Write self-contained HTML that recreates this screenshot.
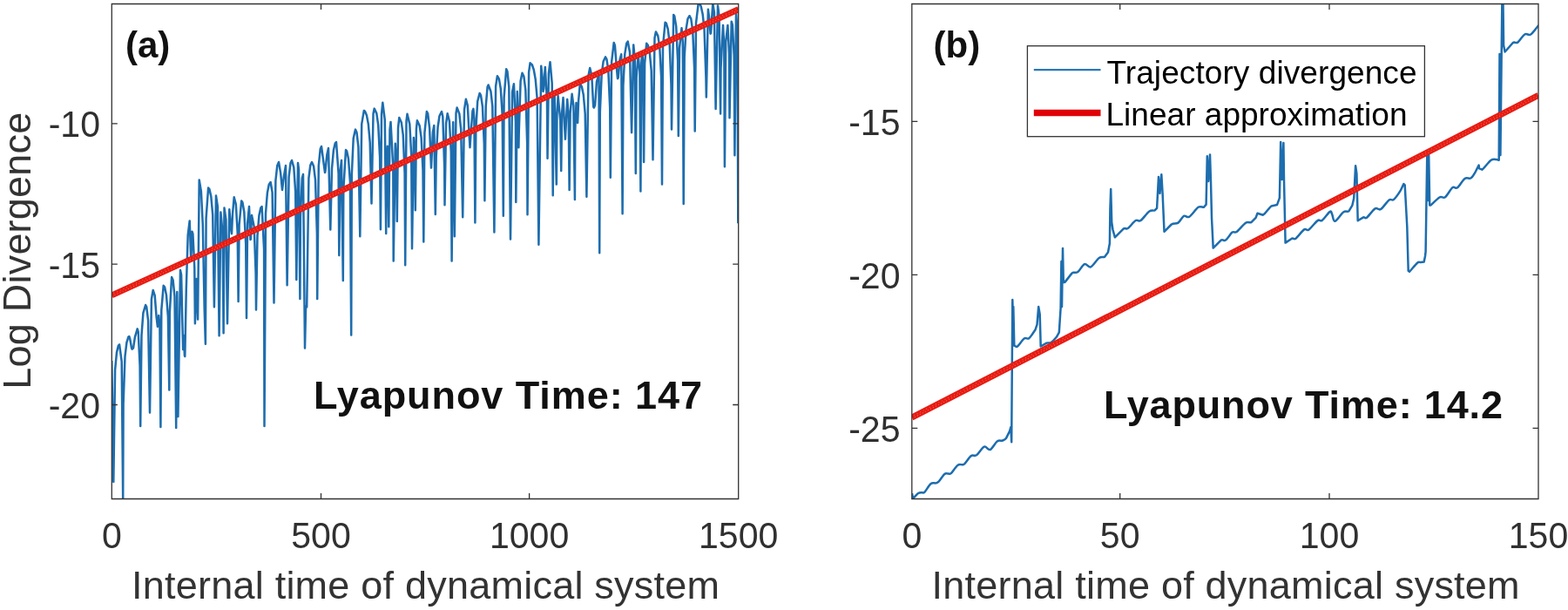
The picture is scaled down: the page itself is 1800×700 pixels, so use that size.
<!DOCTYPE html>
<html><head><meta charset="utf-8"><title>Lyapunov</title>
<style>
html,body{margin:0;padding:0;background:#fff;width:1800px;height:700px;overflow:hidden}
svg{display:block;filter:blur(0.35px)}
text{font-family:'Liberation Sans', sans-serif}
.tk{font-size:43px;fill:#303030}
.lb{font-size:45px;fill:#333}
.an{font-size:45px;font-weight:bold;fill:#111}
.lg{font-size:37px;fill:#000}
</style></head><body>
<svg width="1800" height="700" viewBox="0 0 1800 700">
<defs>
<clipPath id="ca"><rect x="128.3" y="4.5" width="719.4000000000001" height="568.0"/></clipPath>
<clipPath id="cb"><rect x="1046.8" y="4.5" width="719.2" height="568.0"/></clipPath>
</defs>
<rect width="1800" height="700" fill="#fff"/>
<path class="tr" d="M128.3,414.0 130.3,553.0 132.1,424.4 134.0,404.4 135.9,396.6 137.1,395.4 139.7,414.9 141.2,575.0 141.6,463.6 143.5,409.0 145.4,393.1 147.3,386.8 148.3,386.0 149.2,388.8 151.1,399.6 151.7,400.6 153.0,399.6 154.9,386.9 157.7,377.4 158.7,380.7 160.6,419.8 161.2,489.0 162.5,384.6 164.4,359.1 167.1,350.0 168.2,352.0 170.1,367.9 172.0,473.5 173.9,343.3 175.7,332.9 177.7,339.1 179.6,363.6 180.9,374.9 182.3,362.0 183.4,374.3 184.4,490.0 185.3,355.8 187.7,327.7 189.1,329.5 191.0,338.8 192.9,363.5 194.3,447.6 194.8,359.1 197.1,318.0 198.6,321.5 200.5,340.2 202.2,491.0 203.3,335.0 204.4,478.0 207.0,310.0 208.1,315.3 210.1,401.0 211.0,385.0 211.9,408.0 212.3,409.0 213.8,330.9 215.7,269.6 217.7,253.4 219.1,293.7 219.5,292.4 220.5,265.7 221.4,268.5 223.3,307.2 223.9,371.2 225.5,320.0 227.1,366.5 228.7,206.5 230.9,219.7 232.8,258.0 234.7,355.2 235.9,394.8 236.6,250.4 239.1,215.6 240.4,217.1 242.3,225.3 244.2,246.3 245.9,352.3 248.0,224.6 249.9,237.1 251.6,385.3 253.4,243.5 255.6,267.6 256.6,382.2 257.5,238.6 259.4,252.0 261.0,371.2 263.3,240.2 265.1,262.4 266.0,268.2 267.0,245.5 268.7,226.3 270.8,234.2 272.7,266.5 273.6,346.0 274.6,258.0 277.2,230.4 278.4,232.1 280.3,243.3 282.2,279.6 283.0,364.9 284.1,256.4 286.0,237.0 287.5,275.0 287.9,274.0 289.0,247.0 291.7,260.2 293.6,313.5 294.0,355.5 295.5,270.6 297.4,247.3 299.3,238.6 300.6,237.0 303.1,286.2 303.5,489.1 305.0,244.9 306.9,221.2 308.8,211.6 310.6,209.0 312.6,220.7 314.5,347.6 316.4,207.1 318.3,189.9 320.0,186.0 322.1,198.4 324.0,218.0 325.9,202.4 328.0,190.0 329.6,327.2 331.6,203.2 333.5,187.1 335.0,184.0 337.3,192.1 339.2,220.4 340.3,320.9 342.0,187.0 343.0,194.4 344.4,342.9 344.9,249.0 346.8,204.6 348.0,200.0 350.0,399.5 351.1,351.3 352.2,352.3 354.4,204.5 356.3,189.5 358.0,186.0 360.1,190.8 362.0,206.4 363.9,268.5 364.2,342.9 365.8,190.2 367.7,171.0 369.0,168.0 371.5,186.8 373.0,198.0 373.4,197.0 375.3,177.7 377.0,170.0 379.3,263.5 381.0,193.3 382.9,172.3 384.8,164.3 386.0,163.0 388.6,198.8 389.3,293.0 390.5,198.1 392.0,184.0 393.8,322.0 394.3,217.3 397.0,172.0 398.1,173.3 400.0,182.3 401.9,208.1 403.2,384.4 403.8,200.9 405.7,158.7 408.0,148.6 409.5,151.9 411.4,168.7 413.3,271.2 415.2,142.4 417.8,126.9 419.0,127.7 420.9,132.2 422.8,142.2 424.7,163.4 426.5,233.5 428.5,130.5 429.7,124.6 432.3,130.1 434.2,143.4 436.1,180.6 436.9,263.3 438.0,131.0 439.3,117.7 441.8,137.7 443.2,268.0 443.7,190.8 444.8,167.7 446.3,260.2 447.5,148.9 448.5,139.9 451.3,192.2 451.7,299.5 453.8,164.8 455.1,186.3 455.8,253.9 457.0,147.0 458.3,134.9 460.8,140.4 462.7,154.7 464.6,198.7 465.2,304.2 466.5,138.9 467.5,130.8 470.3,142.4 472.2,178.3 473.0,285.3 474.9,158.0 476.0,173.6 476.8,241.3 477.9,148.2 478.9,138.3 481.7,144.3 483.6,157.9 485.5,195.2 486.3,277.5 487.4,152.7 489.9,128.0 491.2,130.6 493.1,147.0 495.0,192.6 496.9,151.7 498.3,144.0 499.8,246.0 500.7,180.3 502.6,145.8 504.5,133.0 507.0,128.0 508.3,133.8 510.2,192.3 510.5,235.2 512.1,141.4 513.7,130.3 515.9,139.0 517.8,174.2 518.6,299.5 520.2,140.3 521.8,271.2 523.5,129.9 524.6,123.4 527.3,130.5 529.2,148.4 531.2,249.2 533.0,125.6 534.9,113.8 536.8,121.1 538.7,155.7 539.5,169.2 540.6,152.0 542.5,127.1 543.4,124.9 544.4,136.0 545.4,255.5 546.3,149.1 548.2,116.3 550.6,107.0 552.0,109.4 553.9,122.0 555.8,165.3 556.4,230.3 557.7,121.8 559.6,99.8 560.6,97.5 563.4,104.7 565.3,121.9 567.4,266.5 569.1,99.0 570.9,87.2 572.9,90.6 574.8,101.9 576.7,131.8 577.8,247.7 578.6,111.8 581.2,79.2 582.4,81.7 584.3,99.6 586.0,274.5 588.1,105.6 589.9,96.3 591.9,139.6 592.3,232.1 593.8,105.0 595.4,169.2 595.7,153.0 597.6,93.1 599.5,83.7 601.4,87.8 603.3,103.1 605.2,165.1 605.5,246.2 607.1,82.6 608.6,72.3 610.9,74.5 612.8,80.2 614.7,90.9 616.6,112.5 618.4,280.8 621.2,75.7 622.3,85.7 623.5,104.9 624.2,101.7 625.8,76.9 628.0,116.9 628.5,181.8 629.9,84.1 631.5,71.2 633.7,95.3 634.7,224.2 635.6,120.5 636.6,108.0 638.8,211.6 639.4,132.2 640.6,110.0 643.2,137.6 644.2,195.9 645.1,129.6 646.5,112.0 648.9,159.7 651.2,114.0 652.7,132.8 653.6,217.9 654.6,130.0 656.6,107.8 658.4,121.3 659.9,228.9 660.3,148.7 661.5,118.0 663.1,140.9 664.1,115.5 665.8,96.3 667.9,99.4 669.8,108.8 671.7,130.4 673.4,225.8 675.5,86.7 677.2,78.0 679.3,86.6 681.2,122.6 681.9,123.6 683.1,120.5 685.0,93.6 687.5,85.0 688.2,290.3 688.8,128.7 690.7,84.8 692.6,70.6 695.0,65.4 696.4,67.8 698.3,80.4 700.2,123.7 700.8,203.8 702.1,71.1 704.7,48.9 705.9,52.2 707.8,77.2 709.0,90.2 709.7,89.2 711.6,68.2 713.2,62.2 714.6,245.3 715.4,98.4 717.3,61.9 719.2,50.0 720.7,47.6 723.0,59.9 725.1,152.1 727.2,51.4 728.7,66.9 729.8,198.9 730.6,89.0 732.6,62.3 734.4,82.5 735.4,219.4 736.3,72.0 737.2,60.2 738.2,72.0 739.1,186.1 740.1,72.8 742.2,49.7 743.9,51.9 745.8,60.4 747.7,80.9 749.5,183.3 751.5,43.6 752.9,36.4 755.3,41.1 757.2,53.8 759.1,88.3 760.0,211.6 761.0,53.3 763.6,25.7 764.8,26.7 766.7,33.2 768.6,48.7 770.5,97.5 771.0,148.4 773.2,17.1 774.3,18.6 776.2,30.1 778.1,69.4 778.8,156.0 780.0,55.2 782.5,32.2 783.8,48.6 784.7,234.0 785.7,65.4 787.6,33.5 789.5,21.7 791.5,18.2 793.3,21.6 795.2,35.0 797.1,78.6 797.7,150.4 799.0,26.6 801.8,3.0 802.8,3.5 804.7,7.3 806.6,15.9 808.5,33.1 810.4,88.2 810.8,111.5 812.9,10.7 814.2,20.9 815.6,38.7 816.1,37.7 818.3,4.0 819.9,14.3 821.6,125.0 824.0,6.4 825.6,18.3 827.1,130.5 827.5,78.1 830.0,28.9 831.3,52.7 831.9,191.3 833.2,48.0 835.4,28.9 837.0,61.1 837.5,135.3 839.7,24.7 840.8,28.3 842.7,64.0 843.4,178.3 845.0,13.9 846.5,34.9 847.3,256.3" fill="none" stroke="#1d6dae" stroke-width="2.5" stroke-linejoin="round" clip-path="url(#ca)"/>
<path class="tr" d="M1047.0,566.1L1048.0,572.1L1053.8,566.2C1055.6,565.1 1057.3,565.4 1058.6,565.2C1059.8,565.0 1059.6,566.5 1061.3,564.8C1063.0,563.1 1066.5,556.7 1068.7,555.0C1070.9,553.3 1072.7,554.8 1074.2,554.4C1075.7,554.0 1075.9,554.3 1077.6,552.6C1079.3,550.9 1082.5,545.5 1084.3,544.0C1086.1,542.5 1087.2,543.6 1088.4,543.5C1089.7,543.4 1090.0,544.7 1091.8,543.1C1093.6,541.5 1097.1,535.5 1099.3,533.9C1101.5,532.2 1103.3,533.5 1104.7,533.2C1106.1,532.9 1105.7,533.9 1107.4,532.2C1109.1,530.5 1112.6,524.8 1114.9,523.1C1117.2,521.5 1118.5,524.0 1121.0,522.3C1123.5,520.5 1127.2,513.6 1129.8,512.6C1132.4,511.6 1134.1,517.0 1136.6,516.0C1139.1,515.0 1142.3,508.2 1144.7,506.5C1147.1,504.8 1149.1,506.1 1150.8,505.5C1152.5,504.9 1153.5,504.9 1154.9,503.1L1159.0,494.9L1160.4,490.0L1161.2,507.2L1162.3,344.0L1163.0,368.0L1163.3,352.0L1164.3,396.7L1164.8,396.8C1165.4,396.9 1166.2,398.9 1168.0,397.5C1169.8,396.1 1173.6,390.0 1175.7,388.5C1177.8,387.0 1179.3,389.2 1180.8,388.5C1182.3,387.8 1183.4,385.7 1184.7,384.0L1188.6,378.2L1190.5,372.4L1192.2,351.9L1193.7,360.8L1194.7,397.5L1201.4,393.6C1203.4,392.9 1204.7,394.2 1206.6,393.0C1208.5,391.8 1211.5,388.5 1213.0,386.6L1215.8,381.4L1217.6,353.6L1218.4,300.0L1219.0,352.0L1220.0,284.9L1220.8,323.9L1222.3,323.9C1223.8,322.3 1228.1,316.5 1229.7,314.6C1231.3,312.7 1230.8,313.1 1232.1,312.7C1233.4,312.3 1235.1,313.7 1237.3,312.1C1239.5,310.5 1242.5,304.1 1245.0,303.1C1247.5,302.1 1249.3,307.5 1252.1,306.3C1254.9,305.1 1259.0,297.9 1261.7,296.0C1264.4,294.1 1266.4,295.8 1268.1,294.7L1272.0,289.6L1273.9,279.3L1274.4,240.0L1275.2,217.0L1276.2,255.0L1277.4,263.3L1279.9,272.3L1289.6,262.6C1292.1,260.9 1292.3,263.6 1294.7,262.0C1297.1,260.4 1301.2,254.5 1303.7,253.0C1306.2,251.5 1306.9,254.7 1309.5,253.0C1312.1,251.3 1316.4,244.6 1319.1,242.7C1321.8,240.8 1324.1,242.1 1325.6,241.4L1328.1,238.8L1330.0,202.9L1331.5,222.0L1333.3,200.3L1334.6,222.0L1336.5,265.8L1344.8,257.5C1347.5,255.8 1350.1,257.2 1352.5,255.6C1354.9,254.0 1356.9,249.0 1359.0,247.8C1361.1,246.7 1362.5,250.4 1365.3,248.7C1368.1,247.0 1372.8,239.6 1375.6,237.8C1378.4,236.0 1380.5,238.3 1382.0,237.8L1384.6,234.6L1385.8,179.3L1387.2,208.0L1389.0,177.4L1390.0,208.8L1391.0,250.0L1392.7,284.6L1401.7,275.6C1404.1,274.1 1404.8,277.1 1406.9,275.6C1409.1,274.1 1412.5,268.2 1414.6,266.6C1416.7,265.0 1417.1,267.8 1419.7,266.0C1422.3,264.2 1427.2,257.5 1430.0,255.7C1432.8,253.9 1434.5,256.1 1436.4,255.1L1441.6,249.9L1443.5,244.8L1449.9,246.7C1452.6,245.3 1456.8,238.3 1459.5,236.4L1466.0,235.1L1468.9,227.1L1470.2,162.9L1471.6,206.0L1473.4,164.1L1474.0,206.6L1475.6,278.6L1483.0,273.7C1485.0,272.9 1485.2,275.4 1487.5,273.7C1489.8,272.0 1494.6,265.1 1497.1,263.4C1499.6,261.7 1499.7,265.4 1502.3,263.7C1504.9,262.0 1510.0,254.9 1512.6,253.1C1515.2,251.3 1515.3,254.6 1517.7,252.9C1520.1,251.2 1524.8,244.1 1526.7,242.9C1528.6,241.7 1528.1,243.8 1529.1,245.6C1530.1,247.4 1530.3,254.2 1532.5,253.8C1534.7,253.5 1539.4,245.4 1542.1,243.5C1544.8,241.6 1546.8,243.5 1548.5,242.2L1552.4,235.6L1554.2,227.6L1556.1,190.3L1557.4,199.3L1558.7,253.3L1565.1,249.4C1566.8,248.8 1566.8,251.4 1569.0,249.7C1571.2,248.0 1575.9,241.0 1578.6,239.4C1581.3,237.8 1582.4,241.7 1585.1,240.0C1587.8,238.3 1592.2,231.2 1594.7,229.4C1597.2,227.6 1597.7,230.9 1599.8,229.1C1601.9,227.3 1605.7,221.8 1607.6,218.8C1609.5,215.8 1610.6,212.2 1611.4,211.1L1612.7,212.4L1615.3,260.0L1616.7,310.7L1618.0,311.7C1619.7,310.2 1624.9,303.5 1627.0,301.7C1629.1,299.9 1629.5,301.2 1630.8,301.0L1634.7,300.4L1636.0,294.0L1636.6,288.8L1638.3,177.1L1639.2,230.0L1640.2,178.0L1641.2,235.6L1642.3,235.6C1644.2,234.1 1649.7,228.1 1652.5,226.5C1655.3,224.9 1656.5,228.1 1659.0,226.2C1661.5,224.3 1665.1,217.1 1667.4,215.3C1669.8,213.5 1670.8,217.0 1673.1,215.3C1675.4,213.6 1678.9,206.8 1681.5,205.0C1684.1,203.2 1686.6,205.6 1688.6,204.3C1690.6,203.0 1692.2,199.8 1693.7,197.3L1697.6,189.6L1698.2,193.4L1701.4,194.7C1703.7,193.1 1708.9,185.7 1711.7,183.8C1714.5,181.9 1716.6,183.1 1718.1,183.1L1720.7,183.8L1721.5,62.0L1722.4,178.0L1724.4,-2.0L1725.4,-2.0L1726.1,52.0L1727.6,59.5L1736.6,49.2C1739.0,47.4 1740.0,50.2 1742.3,48.6C1744.6,47.0 1747.8,41.0 1750.3,39.5C1752.8,38.0 1754.7,41.0 1757.2,39.5C1759.7,38.0 1763.6,32.1 1765.2,30.3L1767.0,28.5" fill="none" stroke="#1d6dae" stroke-width="2.5" stroke-linejoin="round" clip-path="url(#cb)"/>
<line class="tr" x1="128.3" y1="338.9" x2="847.7" y2="10.7" stroke="#e71a12" stroke-width="7" clip-path="url(#ca)"/>
<line class="tr" x1="1046.8" y1="479.1" x2="1766.0" y2="109.3" stroke="#e71a12" stroke-width="7" clip-path="url(#cb)"/>
<line class="tr" x1="128.3" y1="340.09999999999997" x2="847.7" y2="11.899999999999999" stroke="#f6937a" stroke-opacity="0.55" stroke-width="1.3" stroke-dasharray="1.1 2.3" clip-path="url(#ca)"/>
<line class="tr" x1="128.3" y1="337.59999999999997" x2="847.7" y2="9.399999999999999" stroke="#f6937a" stroke-opacity="0.55" stroke-width="1.3" stroke-dasharray="0.9 3.1" stroke-dashoffset="1.5" clip-path="url(#ca)"/>
<line class="tr" x1="1046.8" y1="480.3" x2="1766.0" y2="110.5" stroke="#f6937a" stroke-opacity="0.55" stroke-width="1.3" stroke-dasharray="1.1 2.3" clip-path="url(#cb)"/>
<line class="tr" x1="1046.8" y1="477.8" x2="1766.0" y2="108.0" stroke="#f6937a" stroke-opacity="0.55" stroke-width="1.3" stroke-dasharray="0.9 3.1" stroke-dashoffset="1.5" clip-path="url(#cb)"/>
<path d="M128.3,572.5H847.7V4.5H128.3ZM128.30,572.5v-6.5M128.30,4.5v6.5M368.50,572.5v-6.5M368.50,4.5v6.5M607.60,572.5v-6.5M607.60,4.5v6.5M847.70,572.5v-6.5M847.70,4.5v6.5M128.3,141.90h6.5M847.7,141.90h-6.5M128.3,303.20h6.5M847.7,303.20h-6.5M128.3,464.50h6.5M847.7,464.50h-6.5" fill="none" stroke="#333" stroke-width="1.3" stroke-linejoin="miter"/>
<text transform="translate(128.30,629.2) scale(0.955,1)" text-anchor="middle" class="tk">0</text>
<text transform="translate(368.50,629.2) scale(0.955,1)" text-anchor="middle" class="tk">500</text>
<text transform="translate(607.60,629.2) scale(0.955,1)" text-anchor="middle" class="tk">1000</text>
<text transform="translate(847.70,629.2) scale(0.955,1)" text-anchor="middle" class="tk">1500</text>
<text transform="translate(115,157.20) scale(0.955,1)" text-anchor="end" class="tk">-10</text>
<text transform="translate(115,318.50) scale(0.955,1)" text-anchor="end" class="tk">-15</text>
<text transform="translate(115,479.80) scale(0.955,1)" text-anchor="end" class="tk">-20</text>
<path d="M1046.8,572.5H1766.0V4.5H1046.8ZM1046.80,572.5v-6.5M1046.80,4.5v6.5M1285.70,572.5v-6.5M1285.70,4.5v6.5M1526.00,572.5v-6.5M1526.00,4.5v6.5M1766.00,572.5v-6.5M1766.00,4.5v6.5M1046.8,139.40h6.5M1766.0,139.40h-6.5M1046.8,315.40h6.5M1766.0,315.40h-6.5M1046.8,491.40h6.5M1766.0,491.40h-6.5" fill="none" stroke="#333" stroke-width="1.3" stroke-linejoin="miter"/>
<text transform="translate(1046.80,629.2) scale(0.955,1)" text-anchor="middle" class="tk">0</text>
<text transform="translate(1285.70,629.2) scale(0.955,1)" text-anchor="middle" class="tk">50</text>
<text transform="translate(1526.00,629.2) scale(0.955,1)" text-anchor="middle" class="tk">100</text>
<text transform="translate(1766.00,629.2) scale(0.955,1)" text-anchor="middle" class="tk">150</text>
<text transform="translate(1033.5,154.70) scale(0.955,1)" text-anchor="end" class="tk">-15</text>
<text transform="translate(1033.5,330.70) scale(0.955,1)" text-anchor="end" class="tk">-20</text>
<text transform="translate(1033.5,506.70) scale(0.955,1)" text-anchor="end" class="tk">-25</text>
<text x="488.5" y="686.8" text-anchor="middle" class="lb" textLength="675" lengthAdjust="spacing">Internal time of dynamical system</text>
<text x="1407.1" y="686.8" text-anchor="middle" class="lb" textLength="675" lengthAdjust="spacing">Internal time of dynamical system</text>
<text transform="translate(35.4,287.7) rotate(-90)" text-anchor="middle" class="lb" textLength="318" lengthAdjust="spacing">Log Divergence</text>
<text x="144" y="66" class="an" style="font-size:42px">(a)</text>
<text x="1071.5" y="66" class="an" style="font-size:42px">(b)</text>
<text x="360" y="469" class="an" textLength="446" lengthAdjust="spacing">Lyapunov Time: 147</text>
<text x="1267" y="480" class="an" textLength="458" lengthAdjust="spacing">Lyapunov Time: 14.2</text>
<rect x="1179.4" y="52.7" width="456" height="104" fill="#fff" stroke="#333" stroke-width="1.3"/>
<line x1="1186.8" y1="80.2" x2="1263.5" y2="80.2" stroke="#2a78b8" stroke-width="2.2"/>
<line x1="1186.8" y1="129.6" x2="1263.5" y2="129.6" stroke="#e00008" stroke-width="7.5"/>
<text x="1270.5" y="95.6" class="lg" textLength="356" lengthAdjust="spacing">Trajectory divergence</text>
<text x="1269.5" y="143.6" class="lg" textLength="346" lengthAdjust="spacing">Linear approximation</text>
</svg>
</body></html>
